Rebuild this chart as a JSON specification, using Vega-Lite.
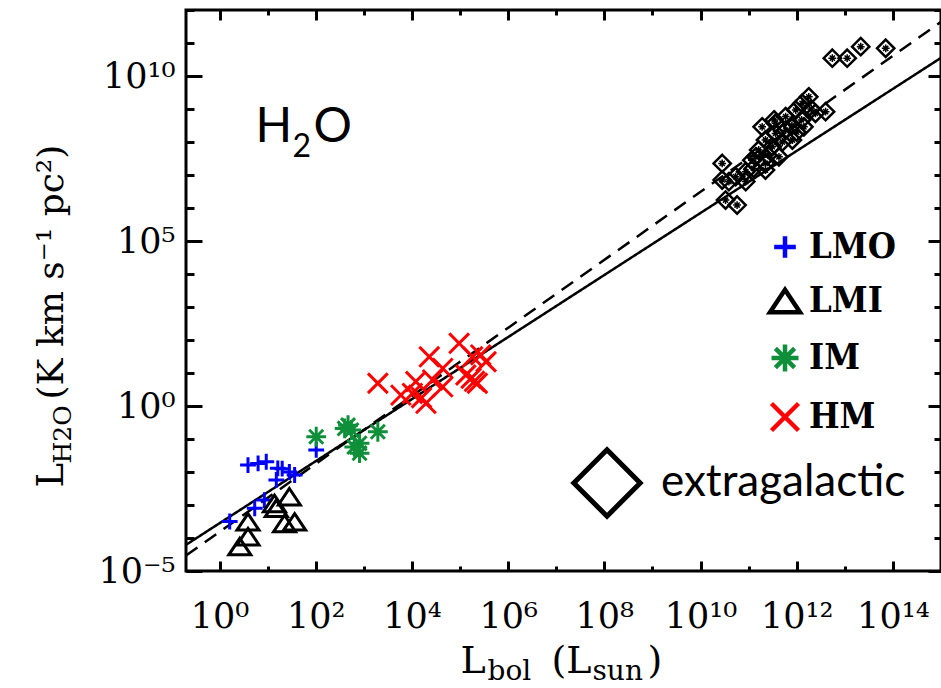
{
  "$schema": "https://vega.github.io/schema/vega-lite/v6.json",
  "width": 755,
  "height": 561,
  "autosize": {"type": "none"},
  "padding": {"left": 186, "top": 10, "right": 0, "bottom": 117},
  "background": "white",
  "config": {
    "view": {"stroke": "black", "strokeWidth": 3},
    "axis": {
      "grid": false, "domain": false, "tickColor": "black", "tickWidth": 3,
      "labelColor": "black", "titleColor": "black",
      "labelFont": "DejaVu Serif", "titleFont": "DejaVu Serif",
      "titleFontWeight": "normal", "labelFontSize": 35, "labelFlush": false, "labelOverlap": false,
      "titleLimit": 0
    }
  },
  "datasets": {
    "fits": [
      {"fit": "solid", "L": 0.2, "LH2O": 6.2e-5},
      {"fit": "solid", "L": 1e15, "LH2O": 3.55e10},
      {"fit": "dashed", "L": 0.2, "LH2O": 2.94e-5},
      {"fit": "dashed", "L": 1e15, "LH2O": 4.37e11}
    ],
    "pts": [
      {"group": "LMO", "L": 1.62, "LH2O": 3.16e-4},
      {"group": "LMO", "L": 3.89, "LH2O": 1.62e-2},
      {"group": "LMO", "L": 6.31, "LH2O": 1.82e-2},
      {"group": "LMO", "L": 9.33, "LH2O": 2.04e-2},
      {"group": "LMO", "L": 16.2, "LH2O": 1.29e-2},
      {"group": "LMO", "L": 15.1, "LH2O": 5.75e-3},
      {"group": "LMO", "L": 36.3, "LH2O": 8.13e-3},
      {"group": "LMO", "L": 5.37, "LH2O": 7.94e-4},
      {"group": "LMO", "L": 8.51, "LH2O": 1.41e-3},
      {"group": "LMO", "L": 102, "LH2O": 4.68e-2},
      {"group": "LMO", "L": 20, "LH2O": 1.26e-2},
      {"group": "LMO", "L": 28.2, "LH2O": 1.0e-2},
      {"group": "LMI", "L": 2.63, "LH2O": 5.5e-5},
      {"group": "LMI", "L": 3.89, "LH2O": 1.1e-4},
      {"group": "LMI", "L": 3.89, "LH2O": 3.09e-4},
      {"group": "LMI", "L": 13.8, "LH2O": 1.12e-3},
      {"group": "LMI", "L": 15.1, "LH2O": 7.94e-4},
      {"group": "LMI", "L": 22.4, "LH2O": 2.75e-4},
      {"group": "LMI", "L": 28.2, "LH2O": 1.78e-3},
      {"group": "LMI", "L": 36.3, "LH2O": 3.09e-4},
      {"group": "IM", "L": 102, "LH2O": 0.117},
      {"group": "IM", "L": 468, "LH2O": 0.263},
      {"group": "IM", "L": 398, "LH2O": 0.209},
      {"group": "IM", "L": 813, "LH2O": 0.0741},
      {"group": "IM", "L": 813, "LH2O": 0.0372},
      {"group": "IM", "L": 1950, "LH2O": 0.166},
      {"group": "IM", "L": 550, "LH2O": 0.186},
      {"group": "IM", "L": 631, "LH2O": 0.0575},
      {"group": "HM", "L": 1950, "LH2O": 4.9},
      {"group": "HM", "L": 95500, "LH2O": 79.4},
      {"group": "HM", "L": 22900, "LH2O": 30.9},
      {"group": "HM", "L": 12000, "LH2O": 5.5},
      {"group": "HM", "L": 5890, "LH2O": 2.14},
      {"group": "HM", "L": 19500, "LH2O": 1.2},
      {"group": "HM", "L": 43600, "LH2O": 13.8},
      {"group": "HM", "L": 26900, "LH2O": 6.17},
      {"group": "HM", "L": 43600, "LH2O": 3.8},
      {"group": "HM", "L": 132000, "LH2O": 8.71},
      {"group": "HM", "L": 229000, "LH2O": 4.9},
      {"group": "HM", "L": 269000, "LH2O": 35.5},
      {"group": "HM", "L": 347000, "LH2O": 21.9},
      {"group": "HM", "L": 182000, "LH2O": 30.9},
      {"group": "HM", "L": 10200, "LH2O": 2.4},
      {"group": "HM", "L": 170000, "LH2O": 6.92},
      {"group": "HM", "L": 200000, "LH2O": 5.6},
      {"group": "HM", "L": 15800, "LH2O": 1.78}
    ],
    "extra": [
      {"group": "extragalactic", "L": 5.5e12, "LH2O": 3.47e10},
      {"group": "extragalactic", "L": 1.12e13, "LH2O": 3.47e10},
      {"group": "extragalactic", "L": 2.14e13, "LH2O": 7.76e10},
      {"group": "extragalactic", "L": 7.08e13, "LH2O": 6.92e10},
      {"group": "extragalactic", "L": 1.78e12, "LH2O": 2.34e9},
      {"group": "extragalactic", "L": 3.98e12, "LH2O": 8.3e8},
      {"group": "extragalactic", "L": 2.82e10, "LH2O": 2.24e7},
      {"group": "extragalactic", "L": 2.82e10, "LH2O": 7.08e6},
      {"group": "extragalactic", "L": 3.31e10, "LH2O": 1.74e6},
      {"group": "extragalactic", "L": 5.75e10, "LH2O": 1.23e6},
      {"group": "extragalactic", "L": 8.7e10, "LH2O": 1.26e7},
      {"group": "extragalactic", "L": 1.41e11, "LH2O": 3.55e7},
      {"group": "extragalactic", "L": 2.24e11, "LH2O": 1.15e8},
      {"group": "extragalactic", "L": 3.63e11, "LH2O": 3.72e8},
      {"group": "extragalactic", "L": 5.89e11, "LH2O": 5.89e8},
      {"group": "extragalactic", "L": 9.55e11, "LH2O": 9.33e8},
      {"group": "extragalactic", "L": 1.29e12, "LH2O": 1.48e9},
      {"group": "extragalactic", "L": 2.24e11, "LH2O": 1.41e7},
      {"group": "extragalactic", "L": 4.27e11, "LH2O": 3.55e7},
      {"group": "extragalactic", "L": 8.13e11, "LH2O": 1.15e8},
      {"group": "extragalactic", "L": 1.41e12, "LH2O": 2.88e8},
      {"group": "extragalactic", "L": 3.09e11, "LH2O": 7.24e7},
      {"group": "extragalactic", "L": 1.62e11, "LH2O": 5.75e7},
      {"group": "extragalactic", "L": 1.17e11, "LH2O": 2.82e7},
      {"group": "extragalactic", "L": 3.63e11, "LH2O": 1.82e8},
      {"group": "extragalactic", "L": 5.89e11, "LH2O": 2.29e8},
      {"group": "extragalactic", "L": 1.91e11, "LH2O": 2.88e8},
      {"group": "extragalactic", "L": 3.39e11, "LH2O": 4.68e8},
      {"group": "extragalactic", "L": 1.26e12, "LH2O": 4.68e8},
      {"group": "extragalactic", "L": 2.45e12, "LH2O": 7.41e8},
      {"group": "extragalactic", "L": 2.24e11, "LH2O": 2.24e7},
      {"group": "extragalactic", "L": 8.7e10, "LH2O": 6.31e6},
      {"group": "extragalactic", "L": 5.37e10, "LH2O": 8.91e6},
      {"group": "extragalactic", "L": 3.89e10, "LH2O": 6.31e6},
      {"group": "extragalactic", "L": 2.51e11, "LH2O": 3.98e7},
      {"group": "extragalactic", "L": 5.01e11, "LH2O": 1.0e8},
      {"group": "extragalactic", "L": 7.94e11, "LH2O": 3.16e8},
      {"group": "extragalactic", "L": 1.0e12, "LH2O": 2.0e8},
      {"group": "extragalactic", "L": 1.26e11, "LH2O": 1.58e7},
      {"group": "extragalactic", "L": 2.0e12, "LH2O": 1.0e9}
    ],
    "note": [{"label": "H2O"}]
  },
  "resolve": {
    "scale": {"color": "independent", "shape": "independent"},
    "axis": {"x": "independent", "y": "independent"}
  },
  "layer": [
    {
      "data": {"name": "fits"},
      "mark": {"type": "line", "clip": true, "strokeWidth": 2.5, "color": "black"},
      "encoding": {
        "x": {"field": "L", "type": "quantitative",
          "scale": {"type": "log", "domain": [0.2, 1e15], "nice": false},
          "axis": {"orient": "bottom", "values": [1, 100, 1e4, 1e6, 1e8, 1e10, 1e12, 1e14],
            "tickSize": -10, "labelBaseline": "alphabetic", "labelPadding": 66,
            "labelExpr": "['10⁰','10¹','10²','10³','10⁴','10⁵','10⁶','10⁷','10⁸','10⁹','10¹⁰','10¹¹','10¹²','10¹³','10¹⁴','10¹⁵'][round(log(datum.value)/LN10)]",
            "title": "L", "titleFontSize": 38, "titleX": 274, "titleY": 101,
            "titleAlign": "left", "titleBaseline": "alphabetic"}},
        "y": {"field": "LH2O", "type": "quantitative",
          "scale": {"type": "log", "domain": [1e-5, 1e12], "nice": false},
          "axis": {"orient": "left", "values": [1e-5, 1, 1e5, 1e10], "tickSize": -16, "labelPadding": 27,
            "labelExpr": "['10⁻⁵','','','','','10⁰','','','','','10⁵','','','','','10¹⁰','','',''][round(log(datum.value)/LN10)+5]",
            "title": "L", "titleFontSize": 37, "titleAngle": 270,
            "titleX": -124, "titleY": 477, "titleAlign": "left", "titleBaseline": "alphabetic"}},
        "strokeDash": {"field": "fit", "type": "nominal",
          "scale": {"domain": ["solid", "dashed"], "range": [[1, 0], [14, 9]]}, "legend": null}
      }
    },
    {
      "data": {"name": "pts"},
      "mark": {"type": "point", "filled": false, "strokeWidth": 3, "size": 484, "opacity": 1},
      "encoding": {
        "x": {"field": "L", "type": "quantitative",
          "scale": {"type": "log", "domain": [0.2, 1e15], "nice": false},
          "axis": {"orient": "bottom", "values": [1, 10, 100, 1000, 1e4, 1e5, 1e6, 1e7, 1e8, 1e9, 1e10, 1e11, 1e12, 1e13, 1e14],
            "tickSize": -5, "labels": false,
            "title": "bol", "titleFontSize": 28, "titleX": 301, "titleY": 108,
            "titleAlign": "left", "titleBaseline": "alphabetic"}},
        "y": {"field": "LH2O", "type": "quantitative",
          "scale": {"type": "log", "domain": [1e-5, 1e12], "nice": false},
          "axis": {"orient": "left", "values": [1e-5, 1e-4, 1e-3, 0.01, 0.1, 1, 10, 100, 1000, 1e4, 1e5, 1e6, 1e7, 1e8, 1e9, 1e10, 1e11, 1e12],
            "tickSize": -8, "labels": false,
            "title": "H2O", "titleFontSize": 25, "titleAngle": 270,
            "titleX": -116, "titleY": 453, "titleAlign": "left", "titleBaseline": "alphabetic"}},
        "color": {"field": "group", "type": "nominal",
          "scale": {"domain": ["LMO", "LMI", "IM", "HM"], "range": ["#0000ff", "#000000", "#0f8f3a", "#ff0000"]},
          "legend": {"orient": "none", "legendX": 581, "legendY": 219, "title": null, "padding": 0,
            "symbolSize": 900, "symbolStrokeWidth": 4.5, "labelFont": "DejaVu Serif Condensed, DejaVu Serif",
            "labelFontWeight": "bold", "labelFontSize": 36, "labelOffset": 6, "rowPadding": 13, "labelLimit": 0,
            "encode": {"labels": {"update": {"fill": {"signal": "datum.value === 'LMO' ? '#0000ff' : datum.value === 'IM' ? '#0f8f3a' : datum.value === 'HM' ? '#ff0000' : '#000000'"}}}}}},
        "shape": {"field": "group", "type": "nominal",
          "scale": {"domain": ["LMO", "LMI", "IM", "HM"],
            "range": ["M-0.72,0L0.72,0M0,-0.72L0,0.72", "M0,-0.75L1,0.75L-1,0.75Z",
              "M-0.9,0L0.9,0M0,-0.9L0,0.9M-0.64,-0.64L0.64,0.64M-0.64,0.64L0.64,-0.64",
              "M-0.9,-0.9L0.9,0.9M-0.9,0.9L0.9,-0.9"]},
          "legend": {"orient": "none", "legendX": 581, "legendY": 219, "title": null, "padding": 0,
            "symbolSize": 900, "symbolStrokeWidth": 4.5, "labelFont": "DejaVu Serif Condensed, DejaVu Serif",
            "labelFontWeight": "bold", "labelFontSize": 36, "labelOffset": 6, "rowPadding": 13, "labelLimit": 0,
            "encode": {"labels": {"update": {"fill": {"signal": "datum.value === 'LMO' ? '#0000ff' : datum.value === 'IM' ? '#0f8f3a' : datum.value === 'HM' ? '#ff0000' : '#000000'"}}}}}}
      }
    },
    {
      "data": {"name": "extra"},
      "mark": {"type": "point", "filled": false, "strokeWidth": 2.5, "size": 300, "color": "black", "opacity": 1},
      "encoding": {
        "x": {"field": "L", "type": "quantitative",
          "scale": {"type": "log", "domain": [0.2, 1e15], "nice": false},
          "axis": {"orient": "top", "values": [1, 100, 1e4, 1e6, 1e8, 1e10, 1e12, 1e14], "tickSize": -10, "labels": false, "title": null}},
        "y": {"field": "LH2O", "type": "quantitative",
          "scale": {"type": "log", "domain": [1e-5, 1e12], "nice": false},
          "axis": {"orient": "right", "values": [1e-5, 1, 1e5, 1e10], "tickSize": -13, "labels": false, "title": null}},
        "shape": {"field": "group", "type": "nominal",
          "scale": {"domain": ["extragalactic"], "range": ["M0,-1L1,0L0,1L-1,0Z"]},
          "legend": {"orient": "none", "legendX": 385, "legendY": 437, "title": null, "padding": 0,
            "symbolSize": 4400, "symbolStrokeWidth": 5, "symbolStrokeColor": "black",
            "labelFont": "Lato", "labelFontSize": 44, "labelOffset": 18, "labelLimit": 0,
            "encode": {"labels": {"update": {"dy": {"value": 12}}}}}}
      }
    },
    {
      "data": {"name": "extra"},
      "mark": {"type": "point", "filled": false, "strokeWidth": 1.5, "size": 300, "color": "black", "opacity": 1,
        "shape": "M-0.45,0L0.45,0M0,-0.45L0,0.45M-0.3,-0.3L0.3,0.3M-0.3,0.3L0.3,-0.3"},
      "encoding": {
        "x": {"field": "L", "type": "quantitative",
          "scale": {"type": "log", "domain": [0.2, 1e15], "nice": false},
          "axis": {"orient": "top", "values": [1, 10, 100, 1000, 1e4, 1e5, 1e6, 1e7, 1e8, 1e9, 1e10, 1e11, 1e12, 1e13, 1e14], "tickSize": -5, "labels": false, "title": null}},
        "y": {"field": "LH2O", "type": "quantitative",
          "scale": {"type": "log", "domain": [1e-5, 1e12], "nice": false},
          "axis": {"orient": "right", "values": [1e-5, 1e-4, 1e-3, 0.01, 0.1, 1, 10, 100, 1000, 1e4, 1e5, 1e6, 1e7, 1e8, 1e9, 1e10, 1e11, 1e12], "tickSize": -7, "labels": false, "title": null}}
      }
    },
    {
      "data": {"name": "note"},
      "mark": {"type": "text", "text": "H", "font": "Lato", "fontSize": 48, "align": "left", "baseline": "alphabetic", "color": "black"},
      "encoding": {
        "x": {"datum": 5.6, "type": "quantitative", "scale": {"type": "log", "domain": [0.2, 1e15], "nice": false},
          "axis": {"orient": "bottom", "ticks": false, "labels": false, "title": "(L", "titleFontSize": 38,
            "titleX": 365, "titleY": 101, "titleAlign": "left", "titleBaseline": "alphabetic"}},
        "y": {"datum": 1e8, "type": "quantitative", "scale": {"type": "log", "domain": [1e-5, 1e12], "nice": false},
          "axis": {"orient": "left", "ticks": false, "labels": false, "title": "(K km s⁻¹ pc²)", "titleFontSize": 36, "titleAngle": 270,
            "titleX": -124, "titleY": 389, "titleAlign": "left", "titleBaseline": "alphabetic"}}
      }
    },
    {
      "data": {"name": "note"},
      "mark": {"type": "text", "text": "2", "font": "Lato", "fontSize": 32, "align": "left", "baseline": "alphabetic", "dx": 37, "dy": 15, "color": "black"},
      "encoding": {
        "x": {"datum": 5.6, "type": "quantitative", "scale": {"type": "log", "domain": [0.2, 1e15], "nice": false},
          "axis": {"orient": "bottom", "ticks": false, "labels": false, "title": "sun", "titleFontSize": 28,
            "titleX": 406, "titleY": 108, "titleAlign": "left", "titleBaseline": "alphabetic"}},
        "y": {"datum": 1e8, "type": "quantitative", "scale": {"type": "log", "domain": [1e-5, 1e12], "nice": false}, "axis": null}
      }
    },
    {
      "data": {"name": "note"},
      "mark": {"type": "text", "text": "O", "font": "Lato", "fontSize": 48, "align": "left", "baseline": "alphabetic", "dx": 58, "color": "black"},
      "encoding": {
        "x": {"datum": 5.6, "type": "quantitative", "scale": {"type": "log", "domain": [0.2, 1e15], "nice": false},
          "axis": {"orient": "bottom", "ticks": false, "labels": false, "title": ")", "titleFontSize": 38,
            "titleX": 461, "titleY": 101, "titleAlign": "left", "titleBaseline": "alphabetic"}},
        "y": {"datum": 1e8, "type": "quantitative", "scale": {"type": "log", "domain": [1e-5, 1e12], "nice": false}, "axis": null}
      }
    }
  ]
}
